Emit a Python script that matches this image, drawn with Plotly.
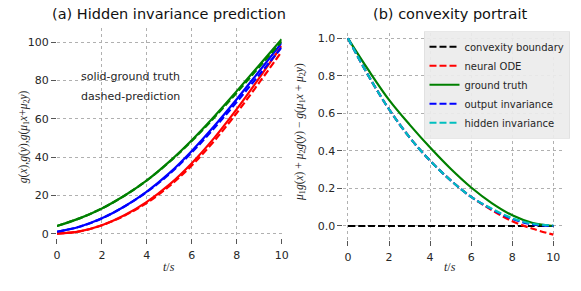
import plotly.graph_objects as go

# ---------------- data ----------------
t = [0, 1, 2, 3, 4, 5, 6, 7, 8, 9, 10]

# (a) hidden invariance prediction
gx_true = [0, 1.2, 4.4, 9.6, 16.6, 25.6, 36.8, 50.0, 65.0, 81.2, 98.0]
gy_true = [1.0, 3.6, 8.0, 14.2, 22.0, 31.6, 43.2, 56.2, 70.2, 84.8, 99.5]
gm_true = [4.0, 8.0, 13.2, 19.8, 27.8, 37.6, 48.8, 61.2, 74.4, 87.9, 101.5]
gx_pred = [0, 1.2, 4.4, 9.4, 16.1, 24.8, 35.6, 48.4, 63.0, 78.8, 95.0]
gy_pred = [1.0, 3.6, 8.0, 14.2, 21.8, 31.1, 42.4, 55.1, 68.7, 82.9, 97.2]
gm_pred = [4.0, 8.0, 13.2, 19.8, 27.8, 37.4, 48.4, 60.6, 73.6, 87.0, 100.4]

# (b) convexity portrait
boundary = [0, 0, 0, 0, 0, 0, 0, 0, 0, 0, 0]
neural_ode = [1.0, 0.80, 0.622, 0.472, 0.348, 0.243, 0.155, 0.085, 0.025, -0.015, -0.046]
ground_truth = [1.0, 0.83, 0.672, 0.54, 0.418, 0.305, 0.205, 0.122, 0.057, 0.016, 0.0]
output_inv = [1.0, 0.80, 0.622, 0.472, 0.348, 0.243, 0.155, 0.09, 0.038, 0.008, 0.0]
hidden_inv = [1.0, 0.80, 0.622, 0.472, 0.348, 0.243, 0.155, 0.092, 0.042, 0.012, 0.003]

GREEN, BLUE, RED, CYAN, BLACK = "#008000", "#0000ff", "#ff0000", "#00bfbf", "#000000"
DASH = "7px,3px"
LW = 2.2

fig = go.Figure()

# ---- left panel ----
for y, c in [(gx_true, RED), (gy_true, BLUE), (gm_true, GREEN)]:
    fig.add_trace(go.Scatter(x=t, y=y, mode="lines", line=dict(color=c, width=LW, shape="spline"),
                             showlegend=False, xaxis="x", yaxis="y"))
for y, c in [(gx_pred, RED), (gy_pred, BLUE), (gm_pred, GREEN)]:
    fig.add_trace(go.Scatter(x=t, y=y, mode="lines", line=dict(color=c, width=LW, dash=DASH, shape="spline"),
                             showlegend=False, xaxis="x", yaxis="y"))

# ---- right panel ----
right = [
    ("convexity boundary", boundary, BLACK, DASH),
    ("neural ODE", neural_ode, RED, DASH),
    ("ground truth", ground_truth, GREEN, "solid"),
    ("output invariance", output_inv, BLUE, DASH),
    ("hidden invariance", hidden_inv, CYAN, DASH),
]
for name, y, c, d in right:
    fig.add_trace(go.Scatter(x=t, y=y, mode="lines", name=name,
                             line=dict(color=c, width=LW, dash=d, shape="spline"),
                             xaxis="x2", yaxis="y2"))

W, H = 581, 291
tickfont = dict(family="DejaVu Sans", size=11, color="#262626")
axis_common = dict(showline=False, zeroline=False, showgrid=True, gridcolor="#b0b0b0",
                   gridwidth=0.8, griddash="dot", ticks="outside", ticklen=5,
                   tickcolor="#555555", tickwidth=1, tickfont=tickfont)

fig.update_layout(
    width=W, height=H,
    margin=dict(l=0, r=0, t=0, b=0),
    paper_bgcolor="white", plot_bgcolor="white",
    xaxis=dict(domain=[54 / W, 283 / W], range=[0, 10], tickvals=[0, 2, 4, 6, 8, 10], anchor="y",
               ticklabelstandoff=2, **axis_common),
    yaxis=dict(domain=[1 - 240 / H, 1 - 28 / H], range=[-2, 107.5], tickvals=[0, 20, 40, 60, 80, 100],
               anchor="x", **axis_common),
    xaxis2=dict(domain=[346 / W, 570 / W], range=[-0.22, 10.48], tickvals=[0, 2, 4, 6, 8, 10],
                anchor="y2", ticklabelstandoff=2, **axis_common),
    yaxis2=dict(domain=[1 - 242 / H, 1 - 33 / H], range=[-0.072, 1.03],
                tickvals=[0, 0.2, 0.4, 0.6, 0.8, 1.0], ticktext=["0.0", "0.2", "0.4", "0.6", "0.8", "1.0"],
                anchor="x2", **axis_common),
    legend=dict(x=428 / W, y=1 - 32 / H, xanchor="left", yanchor="top",
                bgcolor="rgba(235,235,235,0.92)", bordercolor="#d8d8d8", borderwidth=0.6,
                font=dict(family="DejaVu Sans", size=10, color="#262626"), tracegroupgap=0,
                itemwidth=30),
)

math = dict(family="Liberation Serif", size=12, color="#262626")
math_small = dict(family="Liberation Serif", size=11.5, color="#262626")
ann = [
    dict(text="(a) Hidden invariance prediction", x=168 / W, y=1 - 14 / H, xref="paper", yref="paper",
         showarrow=False, font=dict(family="DejaVu Sans", size=14.5, color="#111111"), xanchor="center", yanchor="middle"),
    dict(text="(b) convexity portrait", x=455 / W, y=1 - 14 / H, xref="paper", yref="paper",
         showarrow=False, font=dict(family="DejaVu Sans", size=14.5, color="#111111"), xanchor="center", yanchor="middle"),
    dict(text="solid-ground truth", x=1.0, y=81.8, xref="x", yref="y", showarrow=False,
         font=dict(family="DejaVu Sans", size=11, color="#262626"), xanchor="left", yanchor="middle"),
    dict(text="dashed-prediction", x=1.0, y=71.8, xref="x", yref="y", showarrow=False,
         font=dict(family="DejaVu Sans", size=11, color="#262626"), xanchor="left", yanchor="middle"),
    dict(text="<i>t</i>/<i>s</i>", x=168 / W, y=1 - 270 / H, xref="paper", yref="paper", showarrow=False,
         font=math, xanchor="center", yanchor="middle"),
    dict(text="<i>t</i>/<i>s</i>", x=455 / W, y=1 - 270 / H, xref="paper", yref="paper", showarrow=False,
         font=math, xanchor="center", yanchor="middle"),
    dict(text="<i>g</i>(<i>x</i>),<i>g</i>(<i>y</i>),<i>g</i>(<i>μ</i><sub>1</sub><i>x</i>+<i>μ</i><sub>2</sub><i>y</i>)",
         x=20 / W, y=1 - 138 / H, xref="paper", yref="paper", showarrow=False, textangle=-90,
         font=math_small, xanchor="center", yanchor="middle"),
    dict(text="<i>μ</i><sub>1</sub><i>g</i>(<i>x</i>) + <i>μ</i><sub>2</sub><i>g</i>(<i>y</i>) − <i>g</i>(<i>μ</i><sub>1</sub><i>x</i> + <i>μ</i><sub>2</sub><i>y</i>)",
         x=301 / W, y=1 - 133 / H, xref="paper", yref="paper", showarrow=False, textangle=-90,
         font=math_small, xanchor="center", yanchor="middle"),
]
fig.update_layout(annotations=ann)

fig.write_html("out.html", config={"displayModeBar": False},
               post_script="document.body.style.margin='0px';")
